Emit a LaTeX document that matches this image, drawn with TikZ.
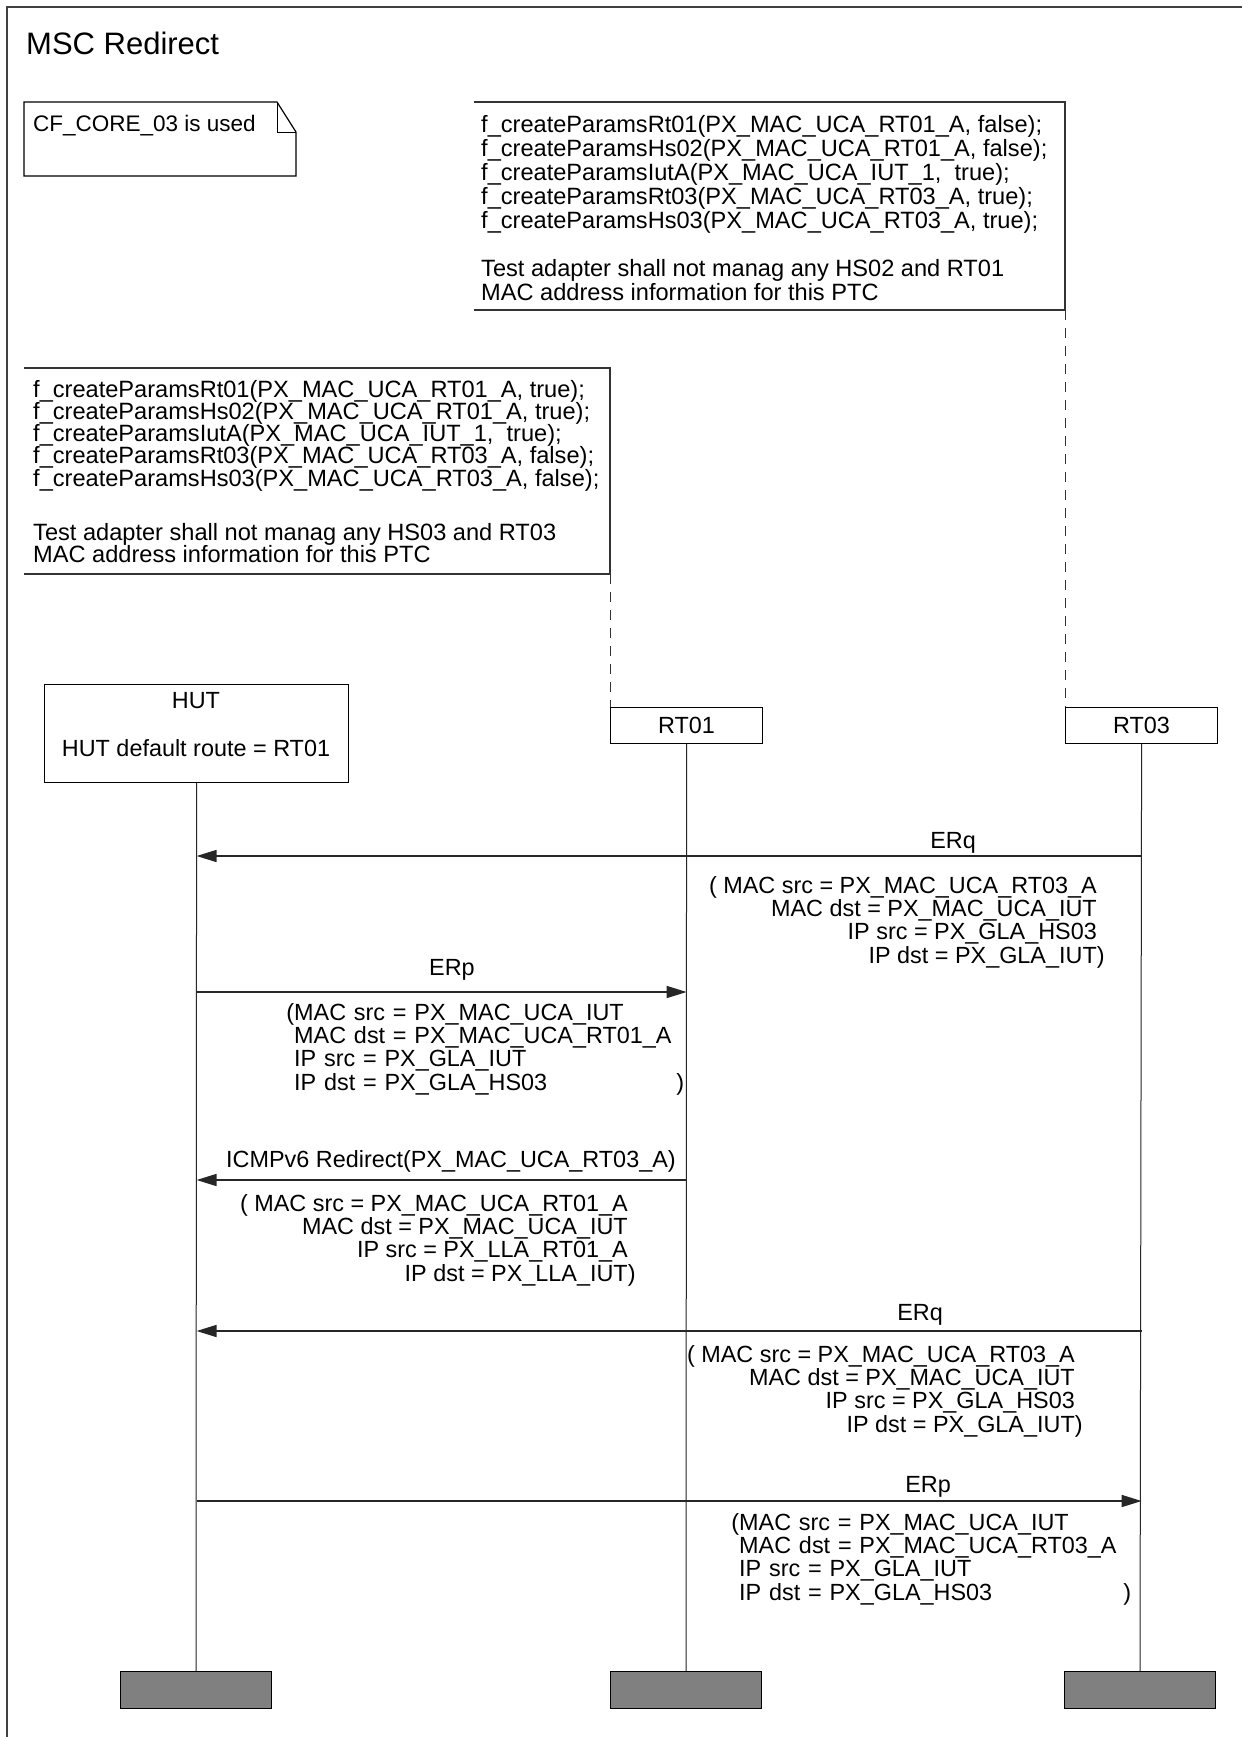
\documentclass[tikz,border=0pt]{standalone}
\usepackage{fontspec}
\setmainfont{Liberation Sans}
\usetikzlibrary{arrows.meta}

\tikzset{
  instbox/.style={draw, line width=1.2pt, minimum width=152pt, minimum height=36pt,
    inner sep=0pt, font=\fontsize{23.4}{24}\selectfont},
  endbox/.style={draw, line width=1.2pt, fill=black!50, minimum width=151pt,
    minimum height=37pt, inner sep=0pt},
  life/.style={line width=1pt, black!85},
  msg/.style={line width=1.6pt, black!85, -{Triangle[length=20pt,width=12pt]}},
  lbl/.style={anchor=base, inner sep=0pt, font=\fontsize{23.4}{24}\selectfont},
  prm/.style={inner sep=0pt, font=\fontsize{23.4}{23.3}\selectfont},
  cmt/.style={anchor=north west, align=left, inner sep=0pt, font=\fontsize{23.6}{24}\selectfont},
  cmtline/.style={line width=1.2pt, black!80},
  cmtdash/.style={line width=1pt, black!80, dash pattern=on 10pt off 8pt},
}

\begin{document}
\begin{tikzpicture}[x=1pt,y=-1pt]
\fill[white] (0,0) rectangle (1242,1737);
\useasboundingbox (0,0) rectangle (1242,1737);

% frame and title
\draw[line width=1.2pt, black!75] (7,1737) -- (7,7) -- (1242,7);
\node[anchor=base west, inner sep=0pt, font=\fontsize{31}{36}\selectfont] (title) at (26,55) {MSC Redirect};

% text symbol
\draw[line width=1.2pt] (24,102) -- (277,102) -- (296,132) -- (296,176) -- (24,176) -- cycle;
\draw[line width=1pt] (277,102) -- (277,132) -- (296,132);
\node[anchor=base west, inner sep=0pt, font=\fontsize{22.5}{24}\selectfont] (core) at (33,131) {CF\_CORE\_03 is used};

% instances
\node[instbox, minimum width=304pt, minimum height=98pt, anchor=north west] (hut) at (44,684) {};
\node[lbl] (hutname) at (196,708) {HUT};
\node[lbl] (hutroute) at (196,756) {HUT default route = RT01};
\node[instbox, anchor=north west] (rt01) at (610,707) {RT01};
\node[instbox, anchor=north west] (rt03) at (1065,707) {RT03};

\node[endbox, anchor=north] (hutend) at (196,1671) {};
\node[endbox, anchor=north] (rt01end) at (686,1671) {};
\node[endbox, anchor=north] (rt03end) at (1140,1671) {};

\draw[life] (hut.south) -- (hutend.north);
\draw[life] (rt01.south) -- (rt01end.north);
\draw[life] (rt03.south) -- (rt03end.north);

% comments
\draw[cmtline] (474,102) -- (1065,102) -- (1065,310) -- (474,310);
\coordinate (cmt03) at (1065,310);
\node[cmt] (cmtrt03) at (481,115) {f\_createParamsRt01(PX\_MAC\_UCA\_RT01\_A, false);\\
f\_createParamsHs02(PX\_MAC\_UCA\_RT01\_A, false);\\
f\_createParamsIutA(PX\_MAC\_UCA\_IUT\_1,\ \ true);\\
f\_createParamsRt03(PX\_MAC\_UCA\_RT03\_A, true);\\
f\_createParamsHs03(PX\_MAC\_UCA\_RT03\_A, true);\\[24pt]
Test adapter shall not manag any HS02 and RT01\\
MAC address information for this PTC};
\draw[cmtdash] (cmt03) -- (rt03.north west);

\draw[cmtline] (24,368) -- (610,368) -- (610,574) -- (24,574);
\coordinate (cmt01) at (610,574);
\node[cmt, font=\fontsize{23.6}{22.2}\selectfont] (cmtrt01) at (33,380) {f\_createParamsRt01(PX\_MAC\_UCA\_RT01\_A, true);\\
f\_createParamsHs02(PX\_MAC\_UCA\_RT01\_A, true);\\
f\_createParamsIutA(PX\_MAC\_UCA\_IUT\_1,\ \ true);\\
f\_createParamsRt03(PX\_MAC\_UCA\_RT03\_A, false);\\
f\_createParamsHs03(PX\_MAC\_UCA\_RT03\_A, false);\\[32pt]
Test adapter shall not manag any HS03 and RT03\\
MAC address information for this PTC};
\draw[cmtdash] (cmt01) -- (rt01.north west);

% messages
\coordinate (m1) at (0,856);
\coordinate (m2) at (0,992);
\coordinate (m3) at (0,1180);
\coordinate (m4) at (0,1331);
\coordinate (m5) at (0,1501);

\draw[msg] (rt03 |- m1) -- (hut |- m1);
\node[lbl] (erq1) at (953,848) {ERq};
\node[prm, align=right, anchor=north east] (erq1p) at (1097,876) {( MAC src = PX\_MAC\_UCA\_RT03\_A\\
MAC dst = PX\_MAC\_UCA\_IUT\\
IP src = PX\_GLA\_HS03\\
IP dst = PX\_GLA\_IUT\rlap{)}};

\draw[msg] (hut |- m2) -- (rt01 |- m2);
\node[lbl] (erp1) at (452,975) {ERp};
\node[prm, align=left, text width=390pt, anchor=north west] (erp1p) at (294,1003) {\llap{(}MAC src = PX\_MAC\_UCA\_IUT\\
MAC dst = PX\_MAC\_UCA\_RT01\_A\\
IP src = PX\_GLA\_IUT\\
IP dst = PX\_GLA\_HS03\hfill)};

\draw[msg] (rt01 |- m3) -- (hut |- m3);
\node[lbl, anchor=base west] (redir) at (226,1167) {ICMPv6 Redirect(PX\_MAC\_UCA\_RT03\_A)};
\node[prm, align=right, anchor=north east] (redirp) at (628,1194) {( MAC src = PX\_MAC\_UCA\_RT01\_A\\
MAC dst = PX\_MAC\_UCA\_IUT\\
IP src = PX\_LLA\_RT01\_A\\
IP dst = PX\_LLA\_IUT\rlap{)}};

\draw[msg] (rt03 |- m4) -- (hut |- m4);
\node[lbl] (erq2) at (920,1320) {ERq};
\node[prm, align=right, anchor=north east] (erq2p) at (1075,1345) {( MAC src = PX\_MAC\_UCA\_RT03\_A\\
MAC dst = PX\_MAC\_UCA\_IUT\\
IP src = PX\_GLA\_HS03\\
IP dst = PX\_GLA\_IUT\rlap{)}};

\draw[msg] (hut |- m5) -- (rt03 |- m5);
\node[lbl] (erp2) at (928,1492) {ERp};
\node[prm, align=left, text width=392pt, anchor=north west] (erp2p) at (739,1513) {\llap{(}MAC src = PX\_MAC\_UCA\_IUT\\
MAC dst = PX\_MAC\_UCA\_RT03\_A\\
IP src = PX\_GLA\_IUT\\
IP dst = PX\_GLA\_HS03\hfill)};
\end{tikzpicture}
\end{document}
